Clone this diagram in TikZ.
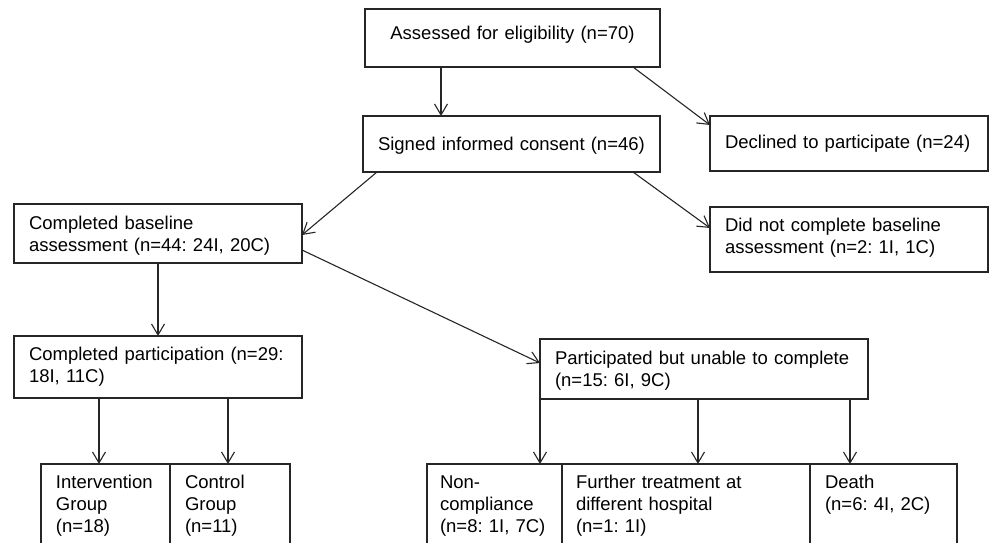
\documentclass[tikz,border=0pt]{standalone}
\usepackage{fontspec}
\setmainfont{Liberation Sans}
\usetikzlibrary{arrows.meta}
\begin{document}
\frenchspacing
\begin{tikzpicture}[x=1pt,y=-1pt,
  font=\fontsize{18.5}{22}\selectfont,
  box/.style={draw=black!85, line width=1.1pt, anchor=north west, align=left,
    inner xsep=15pt, inner ysep=0pt, outer sep=0pt},
  bottombox/.style={box, text height=24pt, text depth=76pt},
  arr/.style={draw=black!85, line width=1.1pt, -{Straight Barb[length=11pt,width=13pt]}}]
\useasboundingbox (0,0) rectangle (989,543);
\clip (0,0) rectangle (989,543);
% boxes
\node[box, align=center, text width=265pt, text height=31pt, text depth=27pt] (A) at (365,9) {Assessed for eligibility (n=70)};
\node[box, text width=267pt, text height=34pt, text depth=22pt] (B) at (363,116) {Signed informed consent (n=46)};
\node[box, text width=248pt, text height=33pt, text depth=22pt] (D) at (710,116) {Declined to participate (n=24)};
\node[box, text width=248pt, text height=24pt, text depth=41pt] (N) at (710,207) {Did not complete baseline\\assessment (n=2: 1I, 1C)};
\node[box, text width=258pt, text height=25pt, text depth=34pt] (CB) at (14,204) {Completed baseline\\assessment (n=44: 24I, 20C)};
\node[box, text width=258pt, text height=24pt, text depth=38pt] (CP) at (14,336) {Completed participation (n=29:\\18I, 11C)};
\node[box, text width=298pt, text height=25pt, text depth=35pt] (PU) at (540,339) {Participated but unable to complete\\(n=15: 6I, 9C)};
\node[bottombox, text width=99pt] (IG) at (41,464) {Intervention\\Group\\(n=18)};
\node[bottombox, text width=90pt] (CG) at (170,464) {Control\\Group\\(n=11)};
\node[bottombox, inner xsep=13pt, text width=109pt] (NC) at (427,464) {Non-\\compliance\\(n=8: 1I, 7C)};
\node[bottombox, inner xsep=14pt, text width=220pt] (FT) at (562,464) {Further treatment at\\different hospital\\(n=1: 1I)};
\node[bottombox, text width=117pt] (DE) at (810,464) {Death\\(n=6: 4I, 2C)};
% connectors
\draw[arr] ([xshift=76pt]A.south west) -- ([xshift=78pt]B.north west);
\draw[arr] ([xshift=-27pt]A.south east) -- ([yshift=-9pt]D.north west);
\draw[arr] ([xshift=14pt]B.south west) -- ([yshift=-31pt]CB.north east);
\draw[arr] ([xshift=-27pt]B.south east) -- ([yshift=-21pt]N.north west);
\draw[arr] ([xshift=144pt]CB.south west) -- ([xshift=144pt]CP.north west);
\draw[arr] ([yshift=-46pt]CB.north east) -- ([yshift=-24pt]PU.north west);
\draw[arr] ([xshift=85pt]CP.south west) -- ([xshift=58pt]IG.north west);
\draw[arr] ([xshift=214pt]CP.south west) -- ([xshift=58pt]CG.north west);
\draw[arr] (PU.south west) -- ([xshift=113pt]NC.north west);
\draw[arr] ([xshift=158pt]PU.south west) -- ([xshift=136pt]FT.north west);
\draw[arr] ([xshift=310pt]PU.south west) -- ([xshift=40pt]DE.north west);
\end{tikzpicture}
\end{document}
